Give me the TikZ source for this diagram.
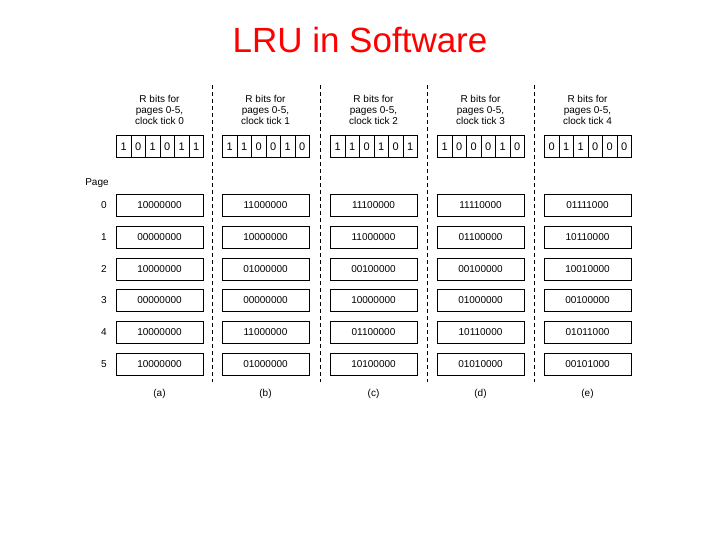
\documentclass[tikz,border=0pt]{standalone}
\usepackage{fontspec}
\setmainfont{Liberation Sans}
\begin{document}
\begin{tikzpicture}[x=1pt,y=-1pt,
  cell/.style={draw,line width=0.8pt,minimum width=14.5pt,minimum height=22pt,inner sep=0pt,anchor=north west,font=\fontsize{11}{12}\selectfont},
  reg/.style={draw,line width=0.8pt,minimum width=87pt,minimum height=22pt,inner sep=0pt,font=\fontsize{10}{12}\selectfont},
  lbl/.style={font=\fontsize{10}{11}\selectfont,align=center},
  sep/.style={line width=0.8pt,dash pattern=on 4pt off 3pt}]
\useasboundingbox (0,0) rectangle (720,540);
\node[text=red,font=\fontsize{35}{38}\selectfont] (title) at (360,40) {LRU in Software};
\foreach \sx [count=\i] in {212,320,427,534} {
  \coordinate (st\i) at (\sx,85); \coordinate (sb\i) at (\sx,382);
  \draw[sep] (st\i) -- (sb\i);}
\node[lbl] (page) at (97,183) {Page};
\foreach \col/\tick/\lt [count=\c] in {116/0/a, 222/1/b, 330/2/c, 437/3/d, 544/4/e} {
  \node[lbl] (h\c) at (\col+43.5,110) {R bits for\\pages 0-5,\\clock tick \tick};
  \node[lbl] (cap\c) at (\col+43.5,394) {(\lt)};
}
\foreach \b [count=\k] in {1,0,1,0,1,1} {\node[cell] (b1-\k) at (116+14.5*\k-14.5,135) {\b};}
\foreach \b [count=\k] in {1,1,0,0,1,0} {\node[cell] (b2-\k) at (222+14.5*\k-14.5,135) {\b};}
\foreach \b [count=\k] in {1,1,0,1,0,1} {\node[cell] (b3-\k) at (330+14.5*\k-14.5,135) {\b};}
\foreach \b [count=\k] in {1,0,0,0,1,0} {\node[cell] (b4-\k) at (437+14.5*\k-14.5,135) {\b};}
\foreach \b [count=\k] in {0,1,1,0,0,0} {\node[cell] (b5-\k) at (544+14.5*\k-14.5,135) {\b};}
\foreach \y [count=\r from 0] in {205,237,269,300,332,364} {
  \node[lbl] (p\r) at (104,\y) {\r};}
\foreach \col/\a/\b/\cc/\d/\e/\f [count=\c] in {
 116/10000000/00000000/10000000/00000000/10000000/10000000,
 222/11000000/10000000/01000000/00000000/11000000/01000000,
 330/11100000/11000000/00100000/10000000/01100000/10100000,
 437/11110000/01100000/00100000/01000000/10110000/01010000,
 544/01111000/10110000/10010000/00100000/01011000/00101000} {
  \node[reg] (r\c-0) at (\col+43.5,205) {\a};
  \node[reg] (r\c-1) at (\col+43.5,237) {\b};
  \node[reg] (r\c-2) at (\col+43.5,269) {\cc};
  \node[reg] (r\c-3) at (\col+43.5,300) {\d};
  \node[reg] (r\c-4) at (\col+43.5,332) {\e};
  \node[reg] (r\c-5) at (\col+43.5,364) {\f};
}
\end{tikzpicture}
\end{document}
